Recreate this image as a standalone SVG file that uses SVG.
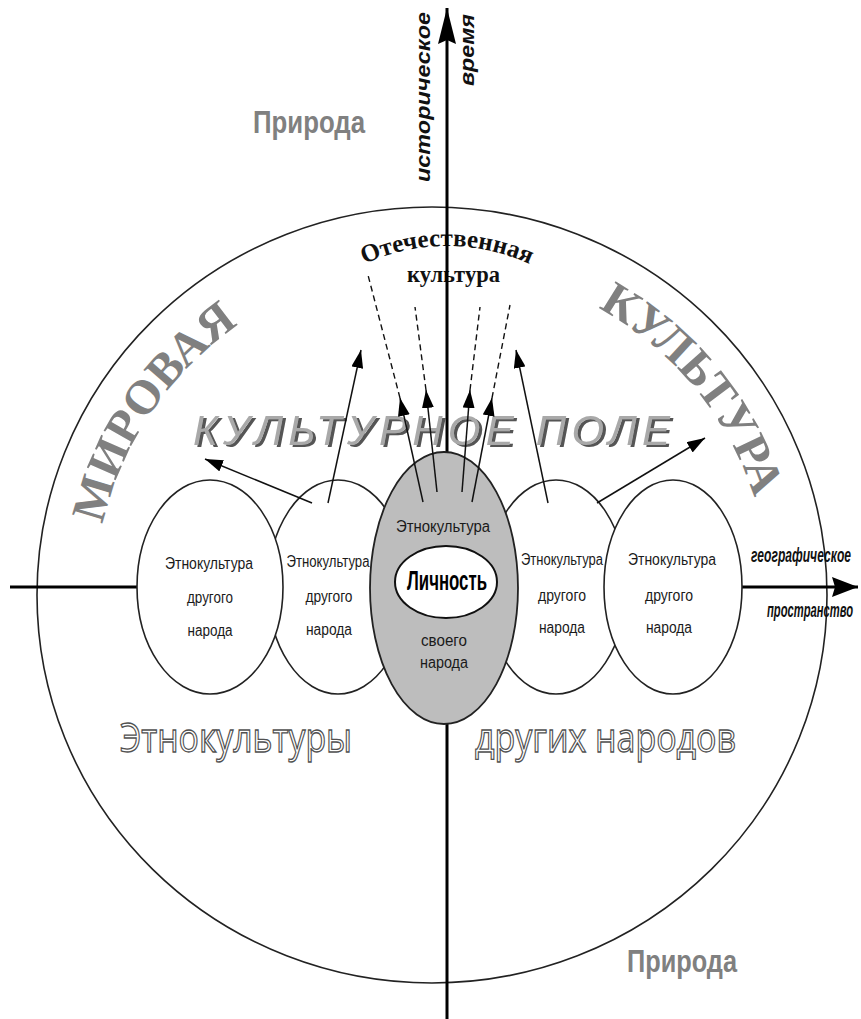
<svg xmlns="http://www.w3.org/2000/svg" width="861" height="1019" viewBox="0 0 861 1019">
<style>
.small{font-family:"Liberation Sans Narrow","Liberation Sans",Arial,sans-serif;font-size:16px;fill:#1a1a1a;text-anchor:middle;}
.nature{font-family:"Liberation Sans Narrow","Liberation Sans",Arial,sans-serif;font-size:32px;font-weight:bold;fill:#808080;}
.big{font-family:"Liberation Serif","Times New Roman",serif;font-size:48px;font-weight:bold;fill:#808080;}
.axis{font-family:"Liberation Sans",Arial,sans-serif;font-size:20px;font-weight:bold;font-style:italic;fill:#111;}
.field{font-family:"Liberation Sans",Arial,sans-serif;font-size:42px;font-style:italic;fill:#a9a9a9;}
.outline{font-family:"Open Sans","Liberation Sans",Arial,sans-serif;font-size:40px;fill:#fff;stroke:#505050;stroke-width:1.3px;}
.serifb{font-family:"Liberation Serif","Times New Roman",serif;font-weight:bold;fill:#111;}
.circ{fill:#fff;stroke:#222;stroke-width:1.6px;}
.ln{stroke:#111;stroke-width:1.5px;fill:none;}
.dash{stroke:#111;stroke-width:1.4px;fill:none;stroke-dasharray:6 4;}
.ax{stroke:#000;stroke-width:3px;fill:none;}
</style>
<defs>
<marker id="ah" viewBox="0 0 18 12" refX="18" refY="6" markerWidth="18" markerHeight="12" markerUnits="userSpaceOnUse" orient="auto">
<path d="M0,0 L18,6 L0,12 Z" fill="#000"/>
</marker>
<marker id="ahV" viewBox="0 0 36 18" refX="36" refY="9" markerWidth="36" markerHeight="18" markerUnits="userSpaceOnUse" orient="auto">
<path d="M0,0 L36,9 L0,18 L4,9 Z" fill="#000"/>
</marker>
<marker id="ahH" viewBox="0 0 26 20" refX="26" refY="10" markerWidth="26" markerHeight="20" markerUnits="userSpaceOnUse" orient="auto">
<path d="M0,0 L26,10 L0,20 L3,10 Z" fill="#000"/>
</marker>
<filter id="shadow" x="-5%" y="-20%" width="110%" height="140%">
<feDropShadow dx="3" dy="2" stdDeviation="0.4" flood-color="#555" flood-opacity="1"/>
</filter>
<path id="arcW" d="M 95 595 A 337 330 0 0 1 769 595" fill="none"/>
<path id="arcO" d="M 247 446 A 200 200 0 0 1 647 446" fill="none"/>
</defs>

<rect width="861" height="1019" fill="#fff"/>

<g id="world-culture">
<ellipse cx="432" cy="595" rx="395" ry="388" fill="none" stroke="#222" stroke-width="1.6"/>
</g>

<g id="labels">
<text class="nature" x="253" y="133" textLength="112" lengthAdjust="spacingAndGlyphs">Природа</text>
<text class="nature" x="627" y="972" textLength="110" lengthAdjust="spacingAndGlyphs">Природа</text>
<text class="big"><textPath href="#arcW" startOffset="71">МИРОВАЯ</textPath></text>
<text class="big"><textPath href="#arcW" startOffset="697">КУЛЬТУРА</textPath></text>
<text class="field" x="193" y="445" textLength="477" lengthAdjust="spacing" filter="url(#shadow)">КУЛЬТУРНОЕ ПОЛЕ</text>
<text class="outline" x="120" y="752" textLength="232" lengthAdjust="spacingAndGlyphs">Этнокультуры</text>
<text class="outline" x="475" y="752" textLength="261" lengthAdjust="spacingAndGlyphs">других народов</text>
<text class="serifb" font-size="25"><textPath href="#arcO" startOffset="50%" text-anchor="middle">Отечественная</textPath></text>
<text class="serifb" font-size="24" x="407" y="282" textLength="93" lengthAdjust="spacingAndGlyphs">культура</text>
<text class="axis" transform="translate(430,182) rotate(-90)" textLength="170" lengthAdjust="spacingAndGlyphs">историческое</text>
<text class="axis" transform="translate(474,86) rotate(-90)" textLength="72" lengthAdjust="spacingAndGlyphs">время</text>
<text class="axis" x="751" y="562" font-size="18" textLength="100" lengthAdjust="spacingAndGlyphs">географическое</text>
<text class="axis" x="767" y="617" font-size="18" textLength="86" lengthAdjust="spacingAndGlyphs">пространство</text>
</g>

<g id="axes">
<line class="ax" x1="447" y1="1019" x2="447" y2="8" marker-end="url(#ahV)"/>
<line class="ax" x1="10" y1="587" x2="200" y2="587"/>
<line class="ax" x1="680" y1="587" x2="858" y2="587" marker-end="url(#ahH)"/>
</g>

<g id="node-other-2">
<ellipse class="circ" cx="338" cy="587" rx="70" ry="107"/>
<text class="small" x="328" y="567" textLength="83" lengthAdjust="spacingAndGlyphs">Этнокультура</text>
<text class="small" x="329" y="602" textLength="47" lengthAdjust="spacingAndGlyphs">другого</text>
<text class="small" x="329" y="635" textLength="46" lengthAdjust="spacingAndGlyphs">народа</text>
</g>
<g id="node-other-1">
<ellipse class="circ" cx="210" cy="587" rx="73" ry="107"/>
<text class="small" x="209" y="569" textLength="88" lengthAdjust="spacingAndGlyphs">Этнокультура</text>
<text class="small" x="210" y="603" textLength="46" lengthAdjust="spacingAndGlyphs">другого</text>
<text class="small" x="210" y="636" textLength="45" lengthAdjust="spacingAndGlyphs">народа</text>
</g>
<g id="node-other-3">
<ellipse class="circ" cx="556" cy="587" rx="70" ry="107"/>
<text class="small" x="562" y="565" textLength="82" lengthAdjust="spacingAndGlyphs">Этнокультура</text>
<text class="small" x="562" y="601" textLength="48" lengthAdjust="spacingAndGlyphs">другого</text>
<text class="small" x="562" y="633" textLength="46" lengthAdjust="spacingAndGlyphs">народа</text>
</g>
<g id="node-other-4">
<ellipse class="circ" cx="673" cy="587" rx="69" ry="107"/>
<text class="small" x="672" y="565" textLength="88" lengthAdjust="spacingAndGlyphs">Этнокультура</text>
<text class="small" x="669" y="601" textLength="48" lengthAdjust="spacingAndGlyphs">другого</text>
<text class="small" x="669" y="633" textLength="46" lengthAdjust="spacingAndGlyphs">народа</text>
</g>
<g id="node-own">
<ellipse cx="444" cy="588" rx="74" ry="136" fill="#bdbdbd" stroke="#222" stroke-width="1.8"/>
<text class="small" x="443" y="532" textLength="94" lengthAdjust="spacingAndGlyphs">Этнокультура</text>
<text class="small" x="444" y="646" textLength="46" lengthAdjust="spacingAndGlyphs">своего</text>
<text class="small" x="444" y="668" textLength="48" lengthAdjust="spacingAndGlyphs">народа</text>
</g>
<g id="node-person">
<ellipse cx="446" cy="582" rx="51" ry="36" fill="#fff" stroke="#111" stroke-width="2"/>
<text x="447" y="590" font-family="'Liberation Sans Narrow','Liberation Sans',Arial,sans-serif" font-size="27" font-weight="bold" fill="#000" text-anchor="middle" textLength="80" lengthAdjust="spacingAndGlyphs">Личность</text>
</g>

<g id="connectors">
<line class="ln" x1="312" y1="503" x2="205" y2="459" marker-end="url(#ah)"/>
<line class="ln" x1="328" y1="503" x2="361" y2="350" marker-end="url(#ah)"/>
<line class="ln" x1="548" y1="503" x2="516" y2="350" marker-end="url(#ah)"/>
<line class="ln" x1="597" y1="503" x2="705" y2="438" marker-end="url(#ah)"/>
<line class="ln" x1="423" y1="502" x2="400" y2="398" marker-end="url(#ah)"/>
<line class="ln" x1="437" y1="492" x2="426" y2="390" marker-end="url(#ah)"/>
<line class="ln" x1="462" y1="492" x2="470" y2="390" marker-end="url(#ah)"/>
<line class="ln" x1="472" y1="502" x2="492" y2="398" marker-end="url(#ah)"/>
<line class="dash" x1="400" y1="398" x2="368" y2="275"/>
<line class="dash" x1="426" y1="390" x2="415" y2="307"/>
<line class="dash" x1="470" y1="390" x2="480" y2="307"/>
<line class="dash" x1="492" y1="398" x2="510" y2="305"/>
</g>
</svg>
